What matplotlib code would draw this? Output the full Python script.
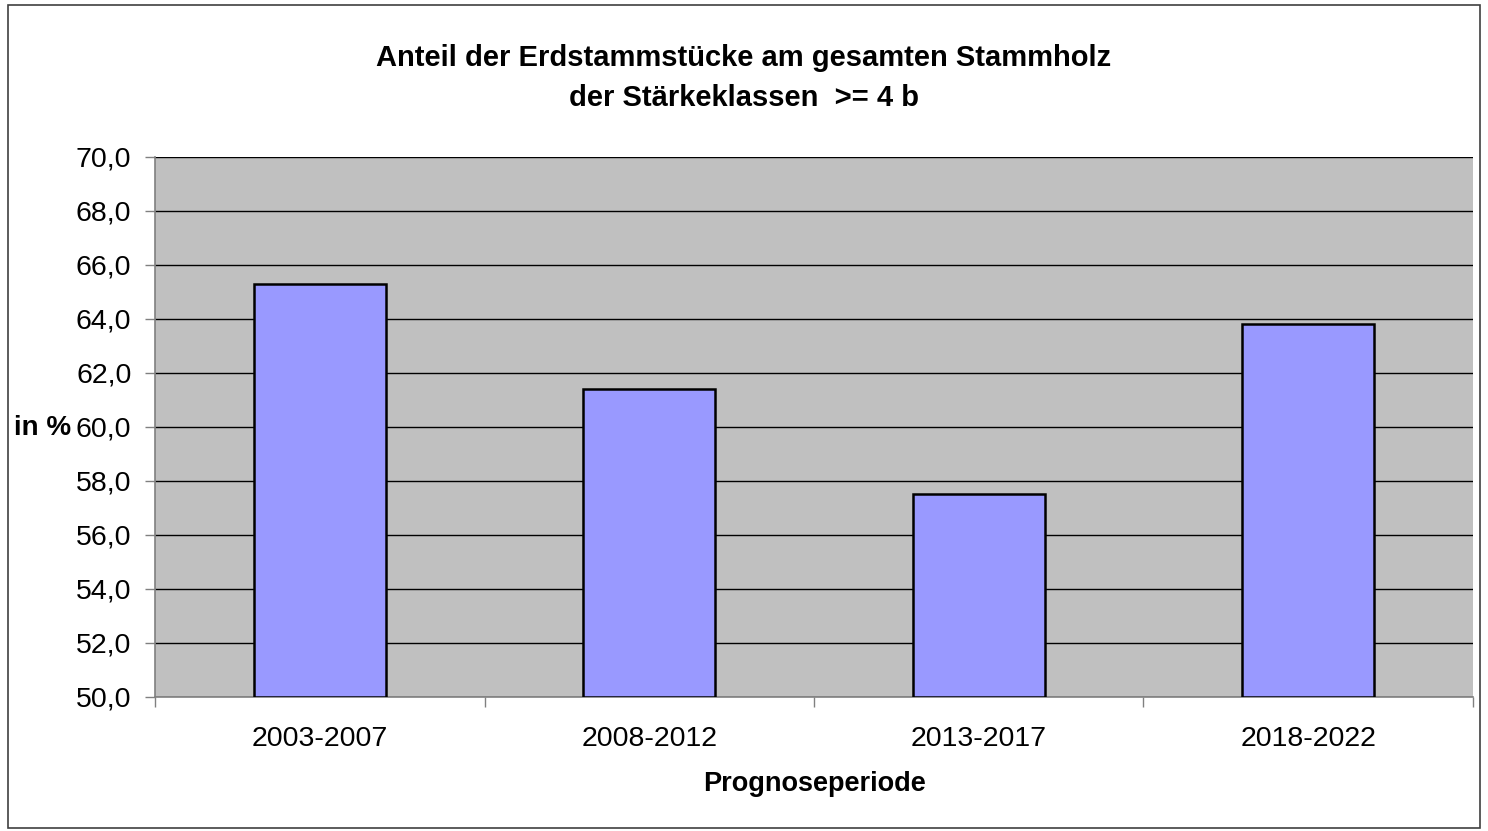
import matplotlib
matplotlib.use('Agg')
from matplotlib import pyplot as plt
from matplotlib.patches import Rectangle
import numpy as np

plt.rcParams['font.family'] = ['Liberation Sans', 'DejaVu Sans']

perioden = ['2003-2007', '2008-2012', '2013-2017', '2018-2022']
anteil = [65.3, 61.4, 57.5, 63.8]
yticks = np.arange(50, 71, 2)

fig = plt.figure(figsize=(14.88, 8.31), dpi=100)
ax = fig.add_axes([0.1042, 0.1613, 0.8857, 0.6498])
ax.set_facecolor('#C0C0C0')

x = np.arange(len(perioden))
ax.bar(x, [v - 50 for v in anteil], bottom=50, width=0.4, color='#9999FF',
	edgecolor='black', linewidth=1.8, zorder=3)

ax.set_xlim(-0.5, len(perioden) - 0.5)
ax.set_ylim(50, 70)
ax.set_yticks(yticks)
ax.yaxis.set_major_formatter(matplotlib.ticker.FuncFormatter(lambda v, p: ('%.1f' % v).replace('.', ',')))
ax.grid(axis='y', color='black', linewidth=1, zorder=1)
ax.set_axisbelow(True)

# category ticks sit on the boundaries, labels in the middle
ax.set_xticks(np.arange(-0.5, len(perioden)), minor=False)
ax.set_xticklabels([])
ax.set_xticks(x, minor=True)
ax.set_xticklabels(perioden, minor=True)
ax.tick_params(axis='x', which='minor', length=0, pad=21, labelsize=20.5)
ax.tick_params(axis='x', which='major', length=7, width=1, color='#808080')
ax.tick_params(axis='y', length=7, width=1, color='#808080', labelsize=20.5, pad=10)

for s in ['top', 'right']:
	ax.spines[s].set_visible(False)
ax.spines['left'].set_color('#808080')
ax.spines['bottom'].set_color('#808080')
ax.spines['left'].set_linewidth(1.2)
ax.spines['bottom'].set_linewidth(1.2)

fig.text(0.5, 0.930, 'Anteil der Erdstammstücke am gesamten Stammholz', ha='center', va='center',
	fontsize=21, fontweight='bold')
fig.text(0.5, 0.882, 'der Stärkeklassen  >= 4 b', ha='center', va='center',
	fontsize=21, fontweight='bold')
fig.text(0.5 * (0.1042 * 2 + 0.8857), 0.056, 'Prognoseperiode', ha='center', va='center',
	fontsize=19.5, fontweight='bold')
fig.text(0.0095, 0.485, 'in %', ha='left', va='center', fontsize=20, fontweight='bold')

fig.patches.append(Rectangle((0.0055, 0.004), 0.989, 0.99, transform=fig.transFigure,
	fill=False, edgecolor='#404040', linewidth=1.2))

fig.savefig('out.png', dpi=100)
